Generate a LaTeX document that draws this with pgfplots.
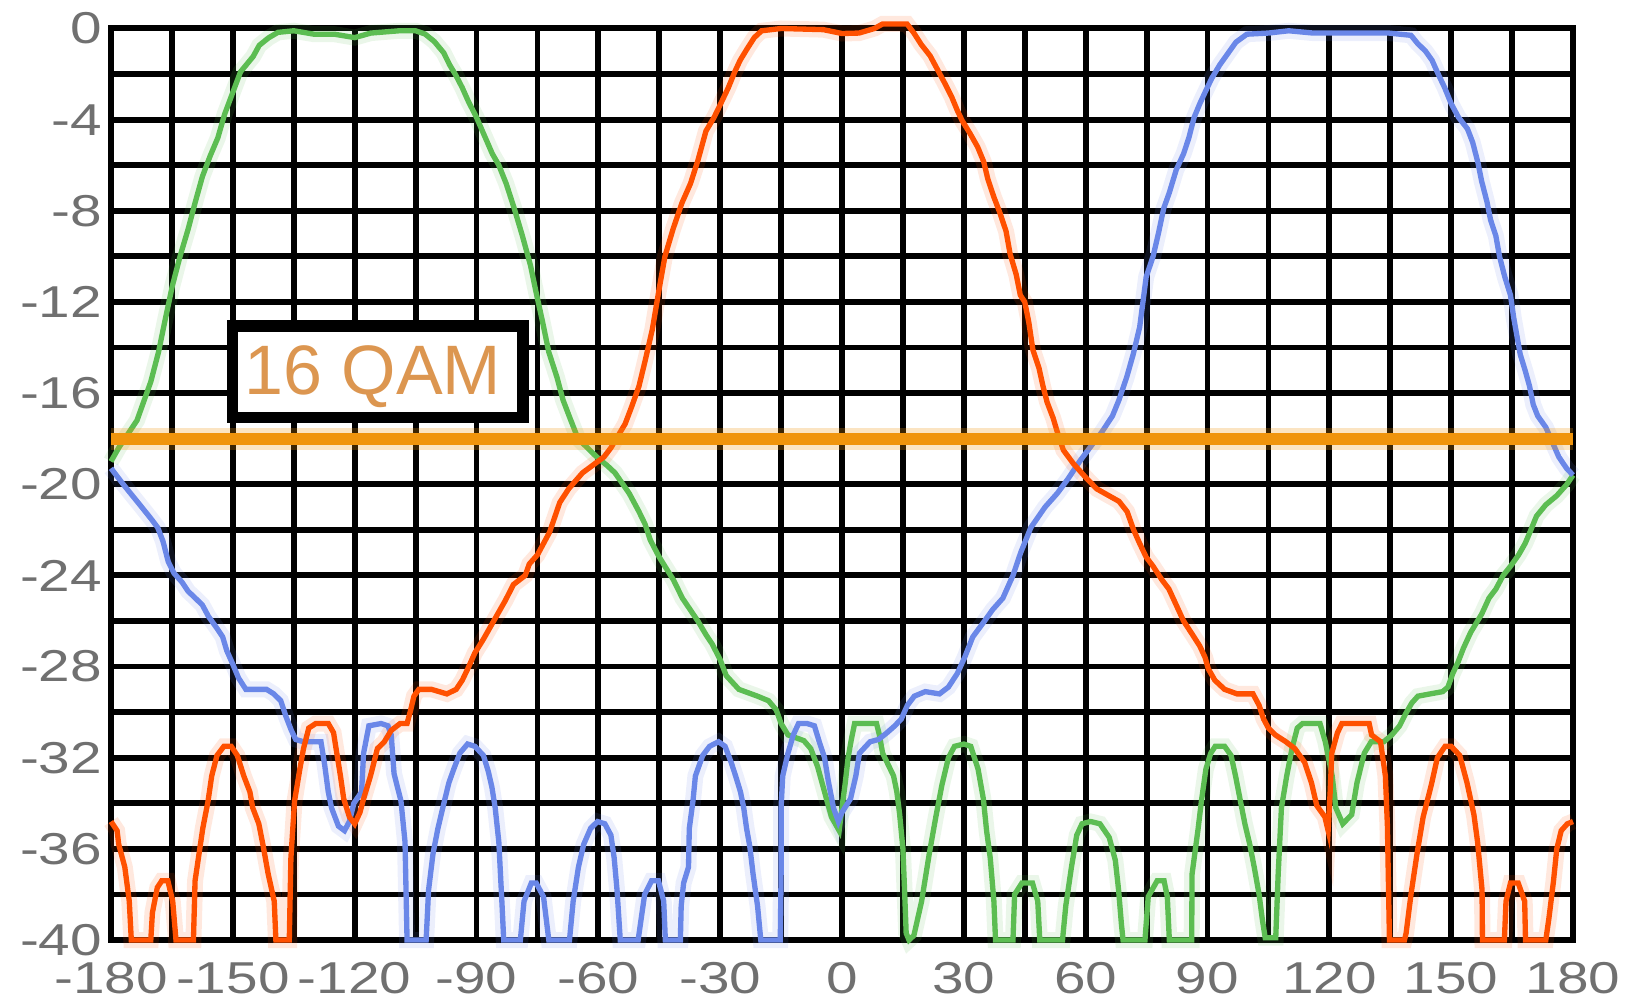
\documentclass[border=0pt]{standalone}
\usepackage{fontspec}
\usepackage{graphicx}
\usepackage{pgfplots}
\usepackage{pgfplotstable}
\pgfplotsset{compat=1.18}
\setmainfont{Liberation Sans}
\definecolor{cred}{RGB}{255,80,0}
\definecolor{cgreen}{RGB}{92,189,82}
\definecolor{cblue}{RGB}{106,135,232}
\definecolor{corange}{RGB}{240,148,12}
\definecolor{labgray}{RGB}{112,112,112}
\definecolor{qam}{RGB}{220,150,80}
\newcommand{\tl}[1]{\scalebox{1.27}[1]{#1}}

\pgfplotstableread{
x y
-180 -34.8
-178.5 -35.2
-178.1 -35.8
-176.6 -36.8
-175.5 -38.3
-175.0 -40
-170.2 -40
-169.8 -38.8
-168.6 -37.7
-167.5 -37.4
-166.0 -37.4
-164.8 -38.3
-164.0 -40
-159.7 -40
-159.3 -37.4
-157.4 -35.1
-156.1 -33.9
-155.2 -32.8
-153.9 -31.9
-152.2 -31.5
-150.4 -31.5
-148.9 -31.9
-147.3 -32.8
-145.8 -33.5
-145.1 -34.2
-143.6 -34.9
-142.5 -35.9
-141.3 -37.1
-139.8 -38.3
-139.4 -40
-136.1 -40
-135.7 -36.4
-134.8 -33.9
-133.5 -32.5
-132.6 -31.6
-131.3 -30.7
-129.6 -30.5
-126.5 -30.5
-125.2 -30.9
-124.4 -31.8
-123.5 -32.8
-122.7 -33.8
-121.3 -34.6
-120.0 -34.9
-118.7 -34.4
-117.8 -33.8
-116.1 -32.8
-114.4 -31.6
-112.7 -31.3
-111.0 -30.8
-108.8 -30.5
-107.1 -30.5
-106.2 -29.9
-105.4 -29.3
-104.2 -29.0
-101.1 -29.0
-97.3 -29.2
-95.0 -29.0
-93.5 -28.6
-91.9 -28.0
-90.4 -27.4
-88.3 -26.8
-86.4 -26.2
-82.9 -25.1
-80.9 -24.4
-78.0 -24.0
-77.0 -23.5
-75.0 -23.1
-72.0 -22.1
-69.5 -20.8
-67.3 -20.2
-63.9 -19.5
-58.6 -18.8
-56.9 -18.4
-53.4 -17.35
-51.8 -16.6
-50.0 -15.7
-48.5 -14.6
-46.7 -13.2
-45.0 -11.4
-43.6 -10.0
-41.6 -8.8
-39.4 -7.65
-37.3 -6.8
-35.5 -5.8
-33.5 -4.5
-31.5 -3.9
-30.0 -3.35
-28.0 -2.6
-26.4 -1.9
-25.1 -1.4
-23.4 -0.9
-21.6 -0.4
-19.8 -0.1
-15 0
-4.6 -0.05
0 -0.22
4.2 -0.2
8 0.0
10 0.2
16 0.2
17.7 -0.2
19.5 -0.7
21.7 -1.2
23.5 -1.8
25.3 -2.4
27.0 -3.0
28.4 -3.6
29.6 -4.05
31.5 -4.6
33.4 -5.2
34.9 -5.85
35.9 -6.6
37.4 -7.4
38.9 -8.1
40.4 -8.9
41.4 -9.9
42.9 -10.8
43.9 -11.7
45.0 -12.0
46.0 -12.9
47.0 -14.1
48.5 -14.9
49.5 -15.7
50.5 -16.4
52.0 -17.1
53.0 -17.7
54.5 -18.5
57.0 -19.1
60.0 -19.7
62.7 -20.2
68.2 -20.75
70.2 -21.2
71.8 -22.0
73.3 -22.6
74.9 -23.2
76.6 -23.6
78.8 -24.2
80.5 -24.6
82.3 -25.3
84.1 -26.0
86.3 -26.6
88.1 -27.1
89.4 -27.6
90.2 -28.1
91.8 -28.6
94.2 -29.0
97.3 -29.2
101.2 -29.2
102.7 -29.7
103.8 -30.3
105.0 -30.7
106.7 -31.0
109.3 -31.3
111.5 -31.6
113.9 -32.2
115.6 -33.1
116.9 -34.1
118.9 -34.6
119.7 -35.2
120.2 -33.5
120.6 -31.8
122.0 -30.9
123.1 -30.5
129.8 -30.5
130.4 -31.0
132.6 -31.3
133.8 -32.8
134.3 -35.0
134.6 -38.0
134.8 -40
138.5 -40
138.9 -39.7
140.1 -38.0
141.6 -36.2
143.1 -34.6
145.1 -33.2
146.6 -32.0
148.5 -31.5
150.0 -31.5
152.1 -31.9
153.9 -33.1
155.6 -34.5
156.5 -35.7
157.6 -37.8
157.7 -40
163.1 -40
163.5 -38.3
164.6 -37.5
166.5 -37.5
168.1 -38.3
168.3 -40
173.3 -40
174.1 -39.0
175.2 -37.4
176.0 -36.0
177.1 -35.2
178.6 -34.9
180.0 -34.8
}\redtab

\pgfplotstableread{
x y
-180 -19.0
-178.1 -18.4
-173.6 -17.2
-170.2 -15.5
-168.3 -14.2
-166.8 -12.9
-164.9 -11.3
-163.0 -10.0
-161.0 -8.8
-159.3 -7.65
-157.5 -6.5
-155.6 -5.6
-153.7 -4.8
-152.0 -3.75
-150.0 -2.8
-148.1 -1.9
-145.0 -1.23
-143.5 -0.74
-141.2 -0.41
-138.9 -0.17
-135 -0.1
-130 -0.25
-125 -0.25
-120 -0.4
-116 -0.2
-109 -0.1
-105 -0.1
-102.7 -0.24
-100.4 -0.57
-98.1 -1.06
-96.6 -1.6
-95.1 -2.05
-93.5 -2.6
-92.0 -3.2
-90.0 -3.9
-88.3 -4.6
-86.1 -5.5
-84.5 -6.0
-82.7 -6.8
-80.7 -7.9
-78.7 -9.1
-76.7 -10.4
-75.3 -11.6
-73.7 -12.9
-72.2 -14.2
-70.2 -15.3
-68.7 -16.3
-67.2 -17.0
-65.0 -18.0
-60.4 -18.8
-57.7 -19.2
-55.9 -19.5
-52.4 -20.4
-50.0 -21.2
-48.5 -21.75
-47.2 -22.45
-45.0 -23.2
-41.5 -24.2
-39.3 -25.0
-35.5 -26.0
-33.5 -26.6
-32.0 -27.0
-30.0 -27.7
-28.5 -28.4
-25.4 -29.0
-20.8 -29.3
-18.1 -29.5
-16.2 -29.9
-15.0 -30.5
-13.3 -31.0
-9.4 -31.25
-7.7 -31.6
-6.0 -32.4
-4.3 -33.5
-2.6 -34.6
-0.7 -35.2
0.0 -34.2
0.8 -33.1
1.5 -32.0
2.3 -31.2
3.1 -30.5
8.5 -30.5
9.2 -31.0
10.0 -31.8
12.7 -32.8
13.5 -33.5
14.2 -34.5
15.0 -36.0
15.4 -37.8
15.8 -39.7
16.5 -40
17.7 -39.8
19.6 -38.3
21.5 -36.2
23.1 -34.6
24.6 -33.2
26.2 -32.0
27.7 -31.5
30.0 -31.4
31.7 -31.5
33.5 -32.5
34.8 -33.8
35.6 -35.2
36.5 -36.4
37.4 -38.3
37.8 -40
42.1 -40
42.5 -38.0
44.3 -37.5
46.9 -37.5
48.2 -38.3
48.7 -40
54.3 -40
55.1 -38.5
56.5 -36.8
57.8 -35.4
59.1 -34.9
61.2 -34.8
63.5 -34.9
65.8 -35.5
67.3 -36.5
68.1 -37.8
68.8 -39.3
69.2 -40
74.6 -40
75.4 -38.1
77.6 -37.4
79.3 -37.4
80.1 -38.1
80.6 -40
86.1 -40
86.2 -37.1
87.7 -35.1
88.5 -33.9
89.6 -32.5
90.8 -31.8
91.9 -31.5
94.2 -31.5
95.8 -31.9
96.9 -32.8
98.1 -33.9
99.2 -34.9
100.4 -35.8
101.5 -36.8
102.7 -38.0
103.5 -39.1
104.2 -39.9
106.8 -39.9
107.4 -37.1
108.2 -34.2
109.5 -32.8
110.8 -31.6
112.1 -30.7
113.4 -30.5
117.7 -30.5
119.0 -31.3
120.7 -32.8
121.6 -34.2
123.3 -34.9
125.5 -34.5
126.8 -33.1
128.6 -31.8
130.3 -31.3
133.4 -31.3
135.4 -31.0
137.3 -30.6
138.7 -30.1
140.3 -29.6
141.8 -29.3
144.8 -29.2
147.9 -29.1
149.2 -28.9
150.4 -28.3
151.7 -27.8
153.0 -27.2
154.8 -26.5
157.5 -25.7
159.3 -25.0
161.0 -24.6
162.8 -24.0
164.6 -23.6
166.6 -23.1
168.2 -22.6
169.4 -22.1
171.0 -21.4
173.3 -20.9
176.0 -20.5
178.5 -20.0
180.0 -19.6
}\greentab

\pgfplotstableread{
x y
-180 -19.3
-177 -20.0
-172 -21.1
-170.2 -21.5
-168.5 -21.9
-167.2 -22.5
-165.9 -23.4
-164.5 -23.9
-162.5 -24.3
-161 -24.7
-159.5 -24.95
-157.5 -25.3
-156 -25.8
-154 -26.3
-152.5 -26.7
-151.5 -27.3
-150 -27.9
-148.6 -28.5
-146.8 -29.0
-141.7 -29.0
-139.9 -29.2
-138.2 -29.5
-136.9 -30.2
-135.6 -30.8
-134.5 -31.2
-132.6 -31.3
-128.3 -31.3
-127.4 -32.3
-126.5 -33.5
-125.7 -34.2
-124.0 -35.0
-122.5 -35.2
-121.3 -34.8
-120.2 -34.0
-118.3 -33.5
-117.8 -31.8
-116.5 -30.6
-113.5 -30.5
-111.8 -30.6
-111.0 -31.0
-110.3 -32.7
-108.6 -33.9
-107.6 -35.7
-107.1 -40
-102.4 -40
-101.8 -37.8
-100.7 -36.2
-99.5 -35.1
-97.9 -33.9
-96.8 -33.1
-95.6 -32.5
-94.1 -31.8
-92.2 -31.4
-90.4 -31.5
-88.3 -31.9
-87.1 -32.6
-86.2 -33.3
-85.4 -34.2
-84.5 -35.7
-84.1 -37.1
-83.7 -38.5
-83.3 -40
-79.2 -40
-78.3 -38.3
-76.5 -37.5
-75.3 -37.5
-73.5 -38.1
-72.2 -40
-67.1 -40
-66.2 -38.3
-64.9 -36.8
-63.6 -35.8
-61.9 -35.1
-60.2 -34.8
-58.4 -34.9
-56.9 -35.4
-56.1 -36.4
-55.4 -37.8
-54.6 -40
-50.2 -40
-48.6 -38.0
-46.9 -37.4
-45.2 -37.4
-43.9 -38.3
-43.5 -40
-39.8 -40
-39.6 -38.5
-39.0 -37.5
-37.8 -36.8
-37.6 -35.1
-36.7 -33.9
-36.1 -32.8
-34.3 -31.9
-32.6 -31.5
-30.4 -31.3
-28.8 -31.5
-27.3 -32.2
-26.2 -32.8
-25.0 -33.5
-24.2 -34.2
-23.5 -35.1
-22.7 -35.9
-21.9 -37.1
-20.8 -38.5
-20.0 -40
-15.2 -40
-15.0 -37.1
-15.0 -34.2
-14.6 -32.8
-13.3 -31.8
-12.0 -31.0
-10.7 -30.5
-8.6 -30.5
-6.8 -30.6
-5.6 -31.3
-4.3 -32.0
-3.4 -33.0
-2.1 -34.2
-0.9 -34.8
0.0 -34.4
2.1 -33.8
3.4 -32.8
4.3 -31.8
6.9 -31.3
9.0 -31.2
11.1 -30.9
13.0 -30.6
14.6 -30.3
16.1 -29.7
17.8 -29.3
20.5 -29.1
24.0 -29.2
26.2 -28.9
28.4 -28.3
30.2 -27.6
32.2 -26.7
35.1 -26.0
37.1 -25.5
39.6 -25.0
42.1 -24.0
44.0 -23.0
46.5 -21.9
50.0 -21.0
53.0 -20.4
55.5 -19.8
58.5 -19.0
61.0 -18.4
64.0 -17.7
66.6 -17.0
68.2 -16.3
70.1 -15.3
71.7 -14.3
73.3 -13.1
74.1 -12.0
74.9 -10.9
76.6 -10.0
77.9 -9.0
79.2 -7.9
80.6 -7.2
82.3 -6.2
84.1 -5.5
85.4 -4.8
86.7 -3.9
88.1 -3.3
89.4 -2.8
91.0 -2.2
93.0 -1.6
95.0 -1.1
97.0 -0.6
99.7 -0.25
105 -0.2
110 -0.1
116 -0.2
126 -0.2
134.6 -0.2
140.1 -0.3
141.7 -0.65
143.7 -1.0
145.3 -1.4
146.8 -2.0
148.4 -2.6
150.0 -3.3
151.8 -3.9
154.0 -4.4
155.3 -5.0
156.6 -5.9
157.5 -6.7
158.8 -7.6
159.7 -8.4
161.0 -9.1
161.9 -10.0
163.2 -10.9
164.6 -11.7
165.4 -12.7
166.2 -13.5
167.0 -14.3
168.2 -15.0
169.3 -15.7
170.2 -16.5
171.3 -17.0
173.3 -17.5
176.5 -18.8
178.4 -19.3
180.0 -19.6
}\bluetab

\begin{document}
\begin{tikzpicture}
\begin{axis}[
  name=ax,
  scale only axis,
  width=438.6pt, height=273.45pt,
  xmin=-180, xmax=180, ymin=-40, ymax=0,
  clip=false,
  axis line style={line width=1.8pt, black},
  xtick={-180,-150,-120,-90,-60,-30,0,30,60,90,120,150,180},
  minor xtick={-165,-135,-105,-75,-45,-15,15,45,75,105,135,165},
  ytick={-40,-36,-32,-28,-24,-20,-16,-12,-8,-4,0},
  minor ytick={-38,-34,-30,-26,-22,-18,-14,-10,-6,-2},
  grid=both,
  major grid style={line width=1.75pt, black},
  minor grid style={line width=1.75pt, black},
  major tick length=0pt, minor tick length=0pt,
  xticklabels={\tl{-180},\tl{-150},\tl{-120},\tl{-90},\tl{-60},\tl{-30},\tl{0},\tl{30},\tl{60},\tl{90},\tl{120},\tl{150},\tl{180}},
  yticklabels={\tl{-40},\tl{-36},\tl{-32},\tl{-28},\tl{-24},\tl{-20},\tl{-16},\tl{-12},\tl{-8},\tl{-4},\tl{0}},
  xticklabel style={anchor=north, inner sep=0pt, yshift=-6.6pt, text=labgray, font=\fontsize{13.4}{16}\selectfont},
  yticklabel style={anchor=east, inner sep=0pt, xshift=-2.5pt, text=labgray, font=\fontsize{13.4}{16}\selectfont},
]
% halos
\addplot[draw=cgreen, line width=4.8pt, opacity=0.13] table {\greentab};
\addplot[draw=cred, line width=4.8pt, opacity=0.13] table {\redtab};
\addplot[draw=cblue, line width=4.8pt, opacity=0.13] table {\bluetab};
% cores
\addplot[draw=cgreen, line width=1.6pt] table {\greentab};
\addplot[draw=cblue, line width=1.6pt] table {\bluetab};
\addplot[draw=cred, line width=1.6pt] table {\redtab};
% threshold line
\addplot[draw=corange, line width=6.6pt, opacity=0.25] coordinates {(-180,-18) (180,-18)};
\addplot[draw=corange, line width=3.6pt] coordinates {(-180,-18) (180,-18)};
% label box
\draw[line width=3.45pt, fill=white] (axis cs:-150.1,-13.05) rectangle (axis cs:-78.6,-17.07);
\node[text=qam, font=\fontsize{21}{25}\selectfont] at (axis cs:-115.5,-15.3) {16 QAM};
\end{axis}
\pgfresetboundingbox
\path[use as bounding box] ([xshift=-33.3pt,yshift=-18pt]ax.south west) rectangle ([xshift=18.9pt,yshift=8.55pt]ax.north east);
\end{tikzpicture}
\end{document}
